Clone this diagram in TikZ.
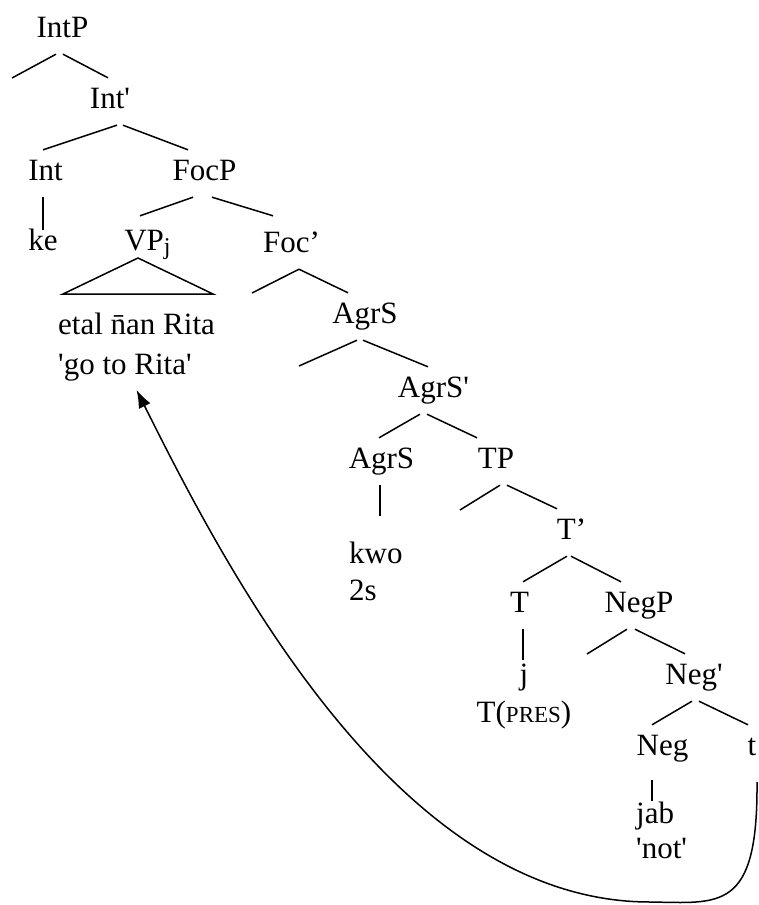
\documentclass[tikz,border=0pt]{standalone}
\usepackage{fontspec}
\setmainfont{Liberation Serif}[Ligatures=TeXOff]
\usepackage{tikz}
\usetikzlibrary{arrows.meta}
\tikzstyle{cat}=[anchor=base,inner xsep=0pt,inner ysep=10pt,text height=20pt,text depth=7pt]
\tikzstyle{leaf}=[anchor=base west,inner sep=0pt,align=left]
\tikzstyle{branch}=[line width=1.5pt]
\tikzstyle{moved}=[->,line width=1.5pt,>={Latex[length=18pt,width=13pt]}]

\begin{document}
\begin{tikzpicture}[x=1pt,y=-1pt,font=\fontsize{31}{37}\selectfont]
  \useasboundingbox (0,0) rectangle (758,905);

  \node[cat] (IntP) at (62.5,37) {IntP};
  \node[cat] (Int1) at (110,108) {Int'};
  \node[cat] (Int) at (45.5,180) {Int};
  \node[cat] (FocP) at (204.5,180) {FocP};
  \node[cat] (ke) at (43,250) {ke};
  \node[cat] (VP) at (147.5,250) {VP\raisebox{-4pt}{\fontsize{24}{28}\selectfont j}};
  \node[cat] (Foc1) at (291.5,252) {Foc’};
  \node[cat] (AgrSP) at (365,323) {AgrS};
  \node[cat] (AgrS1) at (433.5,397) {AgrS'};
  \node[cat] (AgrS) at (381.5,468) {AgrS};
  \node[cat] (TP) at (496,468) {TP};
  \node[cat] (T1) at (571.5,539) {T’};
  \node[cat] (T) at (519.5,612) {T};
  \node[cat] (NegP) at (639,612) {NegP};
  \node[cat] (Neg1) at (694,684) {Neg'};
  \node[cat] (Neg) at (662.5,755) {Neg};
  \node[cat] (tr) at (752,755) {t};

  % leaves: placed at the baseline of their last line
  \node[leaf] (VPtext) at (58,374) {etal n̄an Rita\\[3pt]'go to Rita'};
  \node[leaf] (kwo) at (349,600) {kwo\\2s};
  \node[leaf,anchor=base,align=center] (j) at (524,722) {j\\[1pt]T({\fontsize{23}{27}\selectfont PRES})};
  \node[leaf] (jab) at (636,858) {jab\\[-2pt]'not'};

  % empty specifiers
  \coordinate (IntPspec) at (12,78);
  \coordinate (Focspec) at (252,293);
  \coordinate (AgrSPspec) at (299,366);
  \coordinate (TPspec) at (460,510);
  \coordinate (NegPspec) at (587,654);

  \draw[branch] ([xshift=-6.5pt]IntP.south)--(IntPspec);
  \draw[branch] ([xshift=0.5pt]IntP.south)--([xshift=-2pt]Int1.north);
  \draw[branch] ([xshift=7pt]Int1.south)--([xshift=-2.5pt]Int.north);
  \draw[branch] ([xshift=13pt]Int1.south)--([xshift=-16.5pt]FocP.north);
  \draw[branch] ([xshift=-2.5pt]Int.south)--([yshift=-10pt]ke.north);
  \draw[branch] ([xshift=-11.5pt]FocP.south)--([xshift=-7.5pt,yshift=4pt]VP.north);
  \draw[branch] ([xshift=7.5pt]FocP.south)--([xshift=-18.5pt,yshift=6pt]Foc1.north);
  \draw[branch] (138,258)--(63,294)--(213,294)--cycle;
  \draw[branch] ([xshift=7.5pt]Foc1.south)--(Focspec);
  \draw[branch] ([xshift=7.5pt]Foc1.south)--([xshift=-17pt]AgrSP.north);
  \draw[branch] ([xshift=-8pt]AgrSP.south)--(AgrSPspec);
  \draw[branch] ([xshift=-2pt]AgrSP.south)--([xshift=-5.5pt]AgrS1.north);
  \draw[branch] ([xshift=-13.5pt]AgrS1.south)--([xshift=-2.5pt]AgrS.north);
  \draw[branch] ([xshift=-6.5pt]AgrS1.south)--([xshift=-19pt]TP.north);
  \draw[branch,shorten >=25pt] ([xshift=-1.5pt]AgrS.south)--([xshift=-1.5pt]AgrS.south |- kwo.north);
  \draw[branch] ([xshift=4pt]TP.south)--(TPspec);
  \draw[branch] ([xshift=11pt]TP.south)--([xshift=-14.5pt]T1.north);
  \draw[branch] ([xshift=-4.5pt]T1.south)--([xshift=3.5pt]T.north);
  \draw[branch] ([xshift=-0.5pt]T1.south)--([xshift=-18pt]NegP.north);
  \draw[branch,shorten >=3pt] ([xshift=3.5pt]T.south)--([xshift=3.5pt]T.south |- j.north);
  \draw[branch] ([xshift=-12pt]NegP.south)--(NegPspec);
  \draw[branch] ([xshift=-4pt]NegP.south)--([xshift=-9pt]Neg1.north);
  \draw[branch] ([xshift=-2pt]Neg1.south)--([xshift=-10.5pt]Neg.north);
  \draw[branch] ([xshift=5pt]Neg1.south)--([xshift=-4pt]tr.north);
  \draw[branch,shorten <=8pt] ([xshift=-10.5pt]Neg.south)--([xshift=-10.5pt]Neg.south |- jab.north);

  \draw[moved] ([xshift=5pt,yshift=-10pt]tr.south) .. controls (758,912) and (720,903) .. (650,902)
    .. controls (399,902) and (229,575) .. ([yshift=-9pt]VPtext.south);

\end{tikzpicture}
\end{document}
